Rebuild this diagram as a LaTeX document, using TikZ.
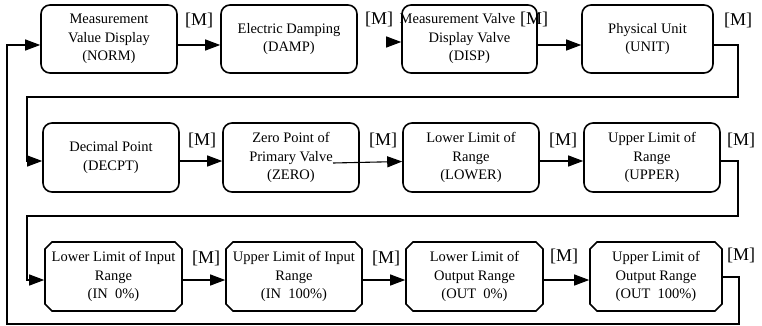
\documentclass[tikz,border=0pt]{standalone}
\usepackage{fontspec}
\setmainfont{Liberation Serif}
\usetikzlibrary{arrows.meta,shapes.misc}
\begin{document}
\begin{tikzpicture}[x=1pt,y=-1pt,
  box/.style={draw,line width=1.6pt,rounded corners=9pt,minimum height=68pt,
    align=center,inner sep=0pt,font=\rmfamily\fontsize{14.5}{18.5}\selectfont},
  cbox/.style={draw,line width=1.6pt,chamfered rectangle,chamfered rectangle xsep=3.5pt,
    chamfered rectangle ysep=3.5pt,minimum height=69pt,
    align=center,inner sep=0pt,font=\rmfamily\fontsize{14.5}{18.5}\selectfont},
  mlab/.style={inner sep=0pt,font=\rmfamily\fontsize{18}{20}\selectfont},
  conn/.style={line width=1.1pt,-{Triangle[length=15pt,width=11pt]}},
  back/.style={line width=1.1pt}]
\useasboundingbox (0,0) rectangle (762,326);
% row 1
\node[box,minimum width=136pt] (norm) at (109,39) {Measurement\\Value Display\\(NORM)};
\node[box,minimum width=136pt] (damp) at (289,39) {Electric Damping\\(DAMP)};
\node[box,minimum width=135pt] (disp) at (469.5,39) {\makebox[0pt]{Measurement Valve\hspace{24pt}}\\Display Valve\\(DISP)};
\node[box,minimum width=131pt] (unit) at (647.5,39) {Physical Unit\\(UNIT)};
% row 2
\node[box,minimum width=136pt,minimum height=69pt] (decpt) at (111,157.5) {Decimal Point\\(DECPT)};
\node[box,minimum width=136pt,minimum height=69pt] (zero) at (291,157.5) {Zero Point of\\Primary Valve\\(ZERO)};
\node[box,minimum width=136pt,minimum height=69pt] (lower) at (471,157.5) {Lower Limit of\\Range\\(LOWER)};
\node[box,minimum width=136pt,minimum height=69pt] (upper) at (652,157.5) {Upper Limit of\\Range\\(UPPER)};
% row 3
\node[cbox,minimum width=137pt] (in0) at (113.5,276.5) {Lower Limit of Input\\Range\\(IN\ \ 0\%)};
\node[cbox,minimum width=136pt] (in100) at (294,276.5) {Upper Limit of Input\\Range\\(IN\ \ 100\%)};
\node[cbox,minimum width=137pt] (out0) at (474.5,276.5) {Lower Limit of\\Output Range\\(OUT\ \ 0\%)};
\node[cbox,minimum width=132pt] (out100) at (656,276.5) {Upper Limit of\\Output Range\\(OUT\ \ 100\%)};
% [M] labels
\node[mlab] (m1) at (199,20) {[M]};
\node[mlab] (m2) at (379,19) {[M]};
\node[mlab] (m3) at (534,19) {[M]};
\node[mlab] (m4) at (738,20) {[M]};
\node[mlab] (m5) at (202,140) {[M]};
\node[mlab] (m6) at (383,140) {[M]};
\node[mlab] (m7) at (563,140) {[M]};
\node[mlab] (m8) at (741,140) {[M]};
\node[mlab] (m9) at (206,258) {[M]};
\node[mlab] (m10) at (386,258) {[M]};
\node[mlab] (m11) at (564,256) {[M]};
\node[mlab] (m12) at (741,255) {[M]};
% connectors row 1
\draw[conn] ([yshift=-6pt]norm.east) -- ([yshift=-6pt]damp.west);
\draw[conn] ([xshift=-15pt,yshift=-3pt]disp.west) -- ([yshift=-3pt]disp.west);
\draw[conn] ([yshift=-6pt]disp.east) -- ([yshift=-6pt]unit.west);
\draw[conn] ([yshift=-6pt]unit.east) -| (738,97) -| (27,161) -- ([yshift=-3.5pt]decpt.west);
% row 2
\draw[conn] ([yshift=-3.5pt]decpt.east) -- ([yshift=-3.5pt]zero.west);
\coordinate (zs) at (333,163);
\draw[conn] (zs) -- ([yshift=-4pt]lower.west);
\draw[conn] ([yshift=-3.5pt]lower.east) -- ([yshift=-3.5pt]upper.west);
\draw[conn] ([yshift=-3.5pt]upper.east) -| (738,216) -| (27,280) -- ([yshift=-3.5pt]in0.west);
% row 3
\draw[conn] ([yshift=-3.5pt]in0.east) -- ([yshift=-3.5pt]in100.west);
\draw[conn] ([yshift=-3.5pt]in100.east) -- ([yshift=-3.5pt]out0.west);
\draw[conn] ([yshift=-3.5pt]out0.east) -- ([yshift=-3.5pt]out100.west);
\draw[conn] ([yshift=-0.5pt]out100.east) -| (739,324) -| (7,45) -- ([yshift=-6pt]norm.west);
\end{tikzpicture}
\end{document}
